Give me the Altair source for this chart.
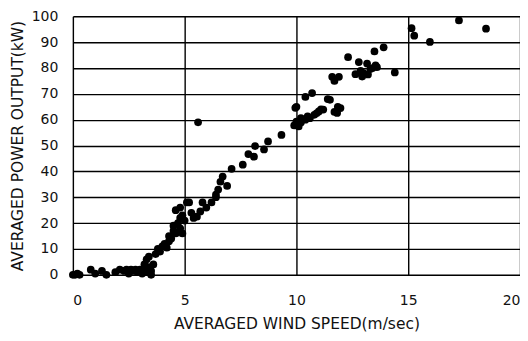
import altair as alt
import pandas as pd

# Averaged wind speed (m/sec)
wind = [
    0.0, 0.1, 0.2, 0.3, 0.8, 1.0, 1.3, 1.5, 1.9, 2.1, 2.3, 2.4, 2.5, 2.6, 2.7, 2.8, 2.9, 3.0, 3.1, 3.2,
    3.2, 3.3, 3.3, 3.4, 3.4, 3.5, 3.5, 3.6, 3.7, 3.8, 3.9, 4.0, 4.1, 4.2, 4.3, 4.3, 4.4, 4.5, 4.5, 4.6,
    4.7, 4.8, 4.8, 4.9, 4.9, 5.0, 4.6, 4.8, 5.1, 5.2, 5.3, 5.4, 5.55, 5.7, 5.8, 5.97, 6.2, 6.4, 6.4, 6.5,
    6.6, 6.7, 6.9, 7.1, 7.6, 7.85, 8.1, 8.15, 8.55, 8.73, 9.33, 9.9, 9.95, 5.6,
    10.0, 10.0, 10.1, 10.2, 10.2, 10.4, 10.4, 10.5, 10.6, 10.7, 10.8, 10.9, 11.0, 11.1, 11.2, 11.5, 11.4,
    11.7, 11.85, 11.97, 11.82, 11.6, 11.9, 11.7,
    12.31, 12.64, 12.79, 12.87, 12.94, 13.16, 13.31, 13.54, 13.6, 13.0, 13.2, 13.4, 13.49, 13.9, 14.4,
    15.15, 15.27, 15.97, 17.27, 18.48,
]
# Averaged power output (kW)
power = [
    0, 0, 0.5, 0, 2, 0.5, 1.5, 0, 1, 2, 1.5, 2, 0.5, 2, 1.5, 2, 1, 2, 0.5, 2,
    4, 1, 6, 3, 7, 0, 1.5, 4, 8, 10, 9, 11, 12, 10.5, 13, 15, 14, 17, 19, 16,
    20, 18, 22, 23, 16, 21, 25, 26, 28, 28, 24, 22, 22.5, 24.5, 28, 26, 28, 31, 30, 33,
    36, 38, 34.4, 41, 42.6, 46.7, 45.7, 49.8, 48.5, 51.6, 54.1, 57.8, 64.6, 59,
    59.3, 65, 57.4, 60.6, 58.9, 60, 68.8, 61.3, 60.6, 70.3, 61.9, 62.5, 63.2, 64, 63.9, 67.7, 68,
    63, 65, 64.5, 62.6, 76.6, 76.6, 75,
    84.2, 77.6, 82.3, 78.9, 76.7, 81.7, 79.6, 81, 80.3, 78, 77.5, 80, 86.4, 88, 78.3,
    95.4, 92.5, 90.1, 98.4, 95.2,
]

x_ticks = [0, 5, 10, 15, 20]
y_ticks = [0, 10, 20, 30, 40, 50, 60, 70, 80, 90, 100]

df = pd.DataFrame({"wind": wind, "power": power})

FONT = "DejaVu Sans"

common = dict(
    ticks=False,
    labelFontSize=14,
    titleFontSize=15.5,
    labelFont=FONT,
    titleFont=FONT,
    titleFontWeight="normal",
    labelColor="#111",
    titleColor="#111",
    grid=True,
    gridColor="black",
    gridWidth=1.4,
    gridOpacity=1,
    domain=False,
)

chart = (
    alt.Chart(df)
    .mark_circle(size=60, color="black", opacity=1)
    .encode(
        x=alt.X(
            "wind:Q",
            scale=alt.Scale(domain=[0, 20], nice=False),
            axis=alt.Axis(
                values=x_ticks,
                title="AVERAGED WIND SPEED(m/sec)",
                labelPadding=19,
                titlePadding=9,
                **common,
            ),
        ),
        y=alt.Y(
            "power:Q",
            scale=alt.Scale(domain=[0, 100], nice=False),
            axis=alt.Axis(
                values=y_ticks,
                title="AVERAGED POWER OUTPUT(kW)",
                labelPadding=15,
                titlePadding=6,
                **common,
            ),
        ),
    )
    .properties(
        width=448,
        height=259,
        autosize=alt.AutoSizeParams(type="none"),
        padding={"left": 65, "top": 8, "right": 0, "bottom": 64},
    )
    .configure_view(stroke="black", strokeWidth=2)
    .configure(background="white")
)

chart.save("out.html", embed_options={"renderer": "svg", "actions": False})
